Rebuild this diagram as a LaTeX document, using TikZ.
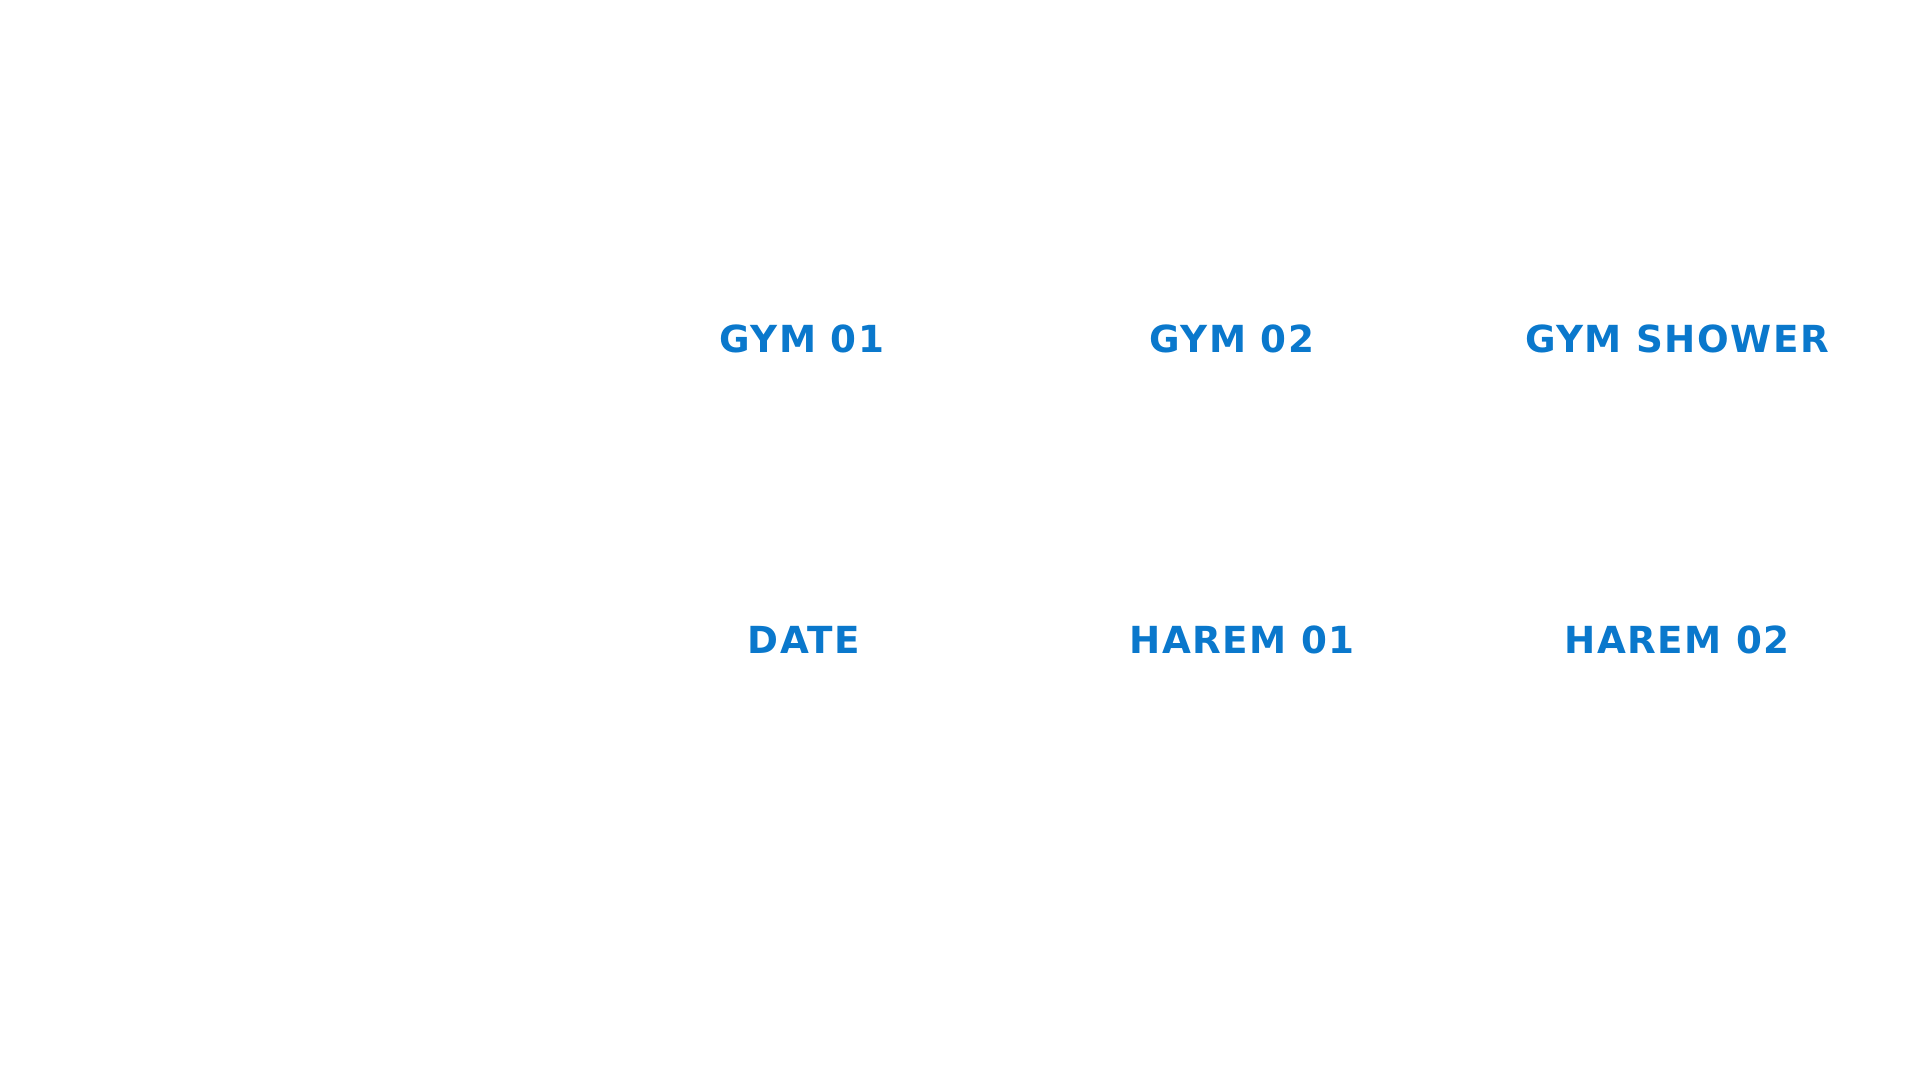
\documentclass[tikz,border=0pt]{standalone}
\usepackage{fontspec}
\newfontfamily\roomfont[LetterSpace=4]{DejaVu Sans}
\definecolor{roomblue}{HTML}{0A78CC}
\begin{document}
\begin{tikzpicture}[x=0.01cm, y=0.01cm,
    room/.style={anchor=base, text=roomblue, font=\roomfont\bfseries\fontsize{10.6}{12}\selectfont}]
      \useasboundingbox (0,0) rectangle (1920,1080);
      % top row
      \node[room] (gym1)   at (802, 727)  {GYM 01};
      \node[room] (gym2)   at (1232, 727) {GYM 02};
      \node[room] (shower) at (1677, 727) {GYM SHOWER};
      % bottom row
      \node[room] (date)   at (804, 426)  {DATE};
      \node[room] (harem1) at (1242, 426) {HAREM 01};
      \node[room] (harem2) at (1677, 426) {HAREM 02};
    \end{tikzpicture}
\end{document}
